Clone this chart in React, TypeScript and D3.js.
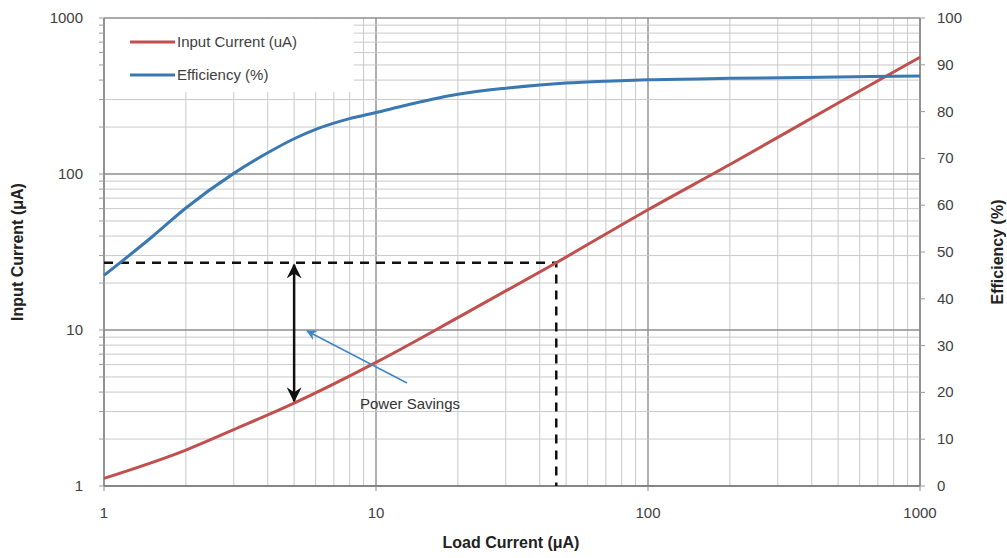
import React from 'react';
import * as d3 from 'd3';

// load current (uA) sample points for efficiency curve
const effLoad = [1, 1.5, 2, 3, 4, 5, 6, 8, 10, 13, 20, 30, 40, 50, 70, 100, 200, 500, 1000];
const efficiency = [45, 53.2, 59.4, 66.8, 71.2, 74.2, 76.2, 78.5, 79.8, 81.4, 83.7, 85, 85.7, 86.1, 86.5, 86.8, 87.1, 87.4, 87.6];

// input current curve
const inLoad = [1, 2, 3, 5, 10, 20, 46, 100, 200, 500, 1000];
const inputCurrent = [1.12, 1.7, 2.3, 3.4, 6.2, 12, 27, 59, 115, 285, 560];

const xTicks = [1, 10, 100, 1000];
const yTicks = [1, 10, 100, 1000];
const effTicks = [0, 10, 20, 30, 40, 50, 60, 70, 80, 90, 100];

// annotation values
const markLoad = 46;
const markCurrent = 27;
const savingsLoad = 5;
const savingsLow = 3.4;

const legendItems = [
  { label: 'Input Current (uA)', color: '#c0504d' },
  { label: 'Efficiency (%)', color: '#3a78b2' },
];

const W = 1007;
const H = 558;
const margin = { top: 18, right: 87, bottom: 72, left: 104 };
const font = '"Liberation Sans", Arial, sans-serif';

const minors = (lo: number, hi: number) => {
  const out: number[] = [];
  for (let p = lo; p < hi; p *= 10) {
    for (let k = 1; k < 10; k++) out.push(p * k);
  }
  out.push(hi);
  return out;
};

export default function App() {
  const x = d3.scaleLog().domain([1, 1000]).range([margin.left, W - margin.right]);
  const y = d3.scaleLog().domain([1, 1000]).range([H - margin.bottom, margin.top]);
  const yEff = d3.scaleLinear().domain([0, 100]).range([H - margin.bottom, margin.top]);

  const x0 = x(1), x1 = x(1000), yb = y(1), yt = y(1000);

  const inLine = d3.line<number>()
    .x((_, i) => x(inLoad[i]))
    .y(d => y(d))
    .curve(d3.curveMonotoneX)(inputCurrent) as string;
  const effLine = d3.line<number>()
    .x((_, i) => x(effLoad[i]))
    .y(d => yEff(d))
    .curve(d3.curveMonotoneX)(efficiency) as string;

  const gridVals = minors(1, 1000);
  const isMajor = (v: number) => xTicks.includes(Math.round(v));

  const ax = x(savingsLoad);
  const aTop = y(markCurrent);
  const aBot = y(savingsLow);

  return (
    <div style={{ position: 'absolute', left: 0, top: 0 }}>
      <svg width={W} height={H} style={{ display: 'block', background: '#fff' }} fontFamily={font}>
        <defs>
          <marker id="blk" viewBox="0 0 12 12" refX="11" refY="6" markerWidth="6" markerHeight="6" orient="auto-start-reverse">
            <path d="M0,0 L12,6 L0,12 L4,6 z" fill="#111" />
          </marker>
          <marker id="blu" viewBox="0 0 12 12" refX="11" refY="6" markerWidth="7" markerHeight="7" orient="auto">
            <path d="M0,0 L12,6 L0,12 L4,6 z" fill="#3f86c4" />
          </marker>
        </defs>

        {/* grid */}
        {gridVals.map(v => (
          <line key={'gx' + v} x1={x(v)} x2={x(v)} y1={yt} y2={yb}
            stroke={isMajor(v) ? '#8e8e8e' : '#c9c9c9'} strokeWidth={isMajor(v) ? 1.4 : 1} />
        ))}
        {gridVals.map(v => (
          <line key={'gy' + v} x1={x0} x2={x1} y1={y(v)} y2={y(v)}
            stroke={isMajor(v) ? '#8e8e8e' : '#c9c9c9'} strokeWidth={isMajor(v) ? 1.4 : 1} />
        ))}

        {/* axes lines and ticks */}
        <line x1={x0} x2={x0} y1={yt} y2={yb} stroke="#8a8a8a" strokeWidth={1.5} />
        <line x1={x1} x2={x1} y1={yt} y2={yb} stroke="#8a8a8a" strokeWidth={1.5} />
        <line x1={x0} x2={x1} y1={yb} y2={yb} stroke="#7a7a7a" strokeWidth={1.5} />
        {gridVals.map(v => (
          <line key={'ly' + v} x1={x0 - 5} x2={x0} y1={y(v)} y2={y(v)} stroke="#9a9a9a" />
        ))}
        {xTicks.map(v => (
          <line key={'tx' + v} x1={x(v)} x2={x(v)} y1={yb} y2={yb + 5} stroke="#8a8a8a" />
        ))}
        {effTicks.map(v => (
          <line key={'ty' + v} x1={x1} x2={x1 + 5} y1={yEff(v)} y2={yEff(v)} stroke="#9a9a9a" />
        ))}

        {/* tick labels */}
        {yTicks.map(v => (
          <text key={'yl' + v} x={x0 - 21} y={y(v) + 5} textAnchor="end" fontSize={15} fill="#404040">{v}</text>
        ))}
        {xTicks.map(v => (
          <text key={'xl' + v} x={x(v)} y={yb + 32} textAnchor="middle" fontSize={15} fill="#404040">{v}</text>
        ))}
        {effTicks.map(v => (
          <text key={'el' + v} x={x1 + 17} y={yEff(v) + 5} textAnchor="start" fontSize={15} fill="#404040">{v}</text>
        ))}

        {/* axis titles */}
        <text x={511} y={548} textAnchor="middle" fontSize={16} fontWeight="bold" fill="#222">Load Current (μA)</text>
        <text transform={`translate(23,${(yt + yb) / 2}) rotate(-90)`} textAnchor="middle" fontSize={16} fontWeight="bold" fill="#222">Input Current (μA)</text>
        <text transform={`translate(1003,${(yt + yb) / 2}) rotate(-90)`} textAnchor="middle" fontSize={16} fontWeight="bold" fill="#222">Efficiency (%)</text>

        {/* legend */}
        <rect x={x0 + 1} y={yt + 1} width={249} height={73} fill="#fff" />
        {legendItems.map((d, i) => (
          <g key={d.label} transform={`translate(0,${42 + i * 33})`}>
            <line x1={130} x2={175} y1={0} y2={0} stroke={d.color} strokeWidth={3} />
            <text x={177} y={5} fontSize={15} fill="#404040">{d.label}</text>
          </g>
        ))}

        {/* dashed markers */}
        <path d={`M${x0},${y(markCurrent)} H${x(markLoad)} V${yb}`} fill="none" stroke="#111" strokeWidth={2.5} strokeDasharray="9,7" />

        {/* curves */}
        <path d={inLine} fill="none" stroke="#c0504d" strokeWidth={3} />
        <path d={effLine} fill="none" stroke="#3a78b2" strokeWidth={3} />

        {/* power savings arrow */}
        <line x1={ax} x2={ax} y1={aTop + 2} y2={aBot - 2} stroke="#111" strokeWidth={2.5}
          markerStart="url(#blk)" markerEnd="url(#blk)" />
        <line x1={407} y1={383} x2={307} y2={331} stroke="#3f86c4" strokeWidth={1.5} markerEnd="url(#blu)" />
        <text x={360} y={409} fontSize={15} fill="#333">Power Savings</text>
      </svg>
    </div>
  );
}
